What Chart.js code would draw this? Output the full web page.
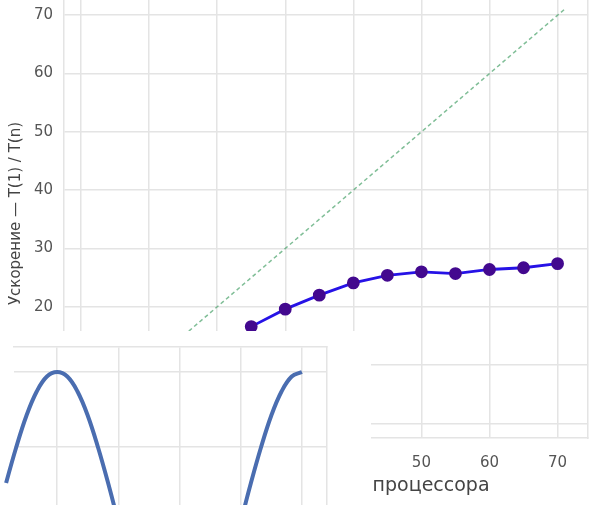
<!DOCTYPE html>
<html>
<head>
<meta charset="utf-8">
<script src="https://cdn.jsdelivr.net/npm/chart.js@4.4.1/dist/chart.umd.min.js"></script>
<style>
  html, body { margin: 0; padding: 0; background: #fff; overflow: hidden; }
  #page { position: relative; width: 590px; height: 505px; overflow: hidden; }
  #mainChart { position: absolute; left: 0; top: -40px; }
  #inset { position: absolute; left: 0; top: 331px; width: 371px; height: 174px; background: #fff; overflow: hidden; }
  #sineChart { position: absolute; left: 0; top: 0; }
</style>
</head>
<body>
<div id="page">
  <canvas id="mainChart" width="596" height="545"></canvas>
  <div id="inset">
    <canvas id="sineChart" width="371" height="370"></canvas>
  </div>
</div>
<script>
// speedup measured vs number of processors
const processors = [25, 30, 35, 40, 45, 50, 55, 60, 65, 70];
const speedup = [16.6, 19.6, 22.0, 24.1, 25.4, 26.0, 25.7, 26.4, 26.7, 27.4];
// ideal speedup line
const idealX = [1, 71];
const idealY = [1, 71];
const axisTicks = [0, 10, 20, 30, 40, 50, 60, 70];

// inset curve (degrees -> value)
const angleDeg = [0, 15, 30, 45, 60, 75, 90, 105, 120, 135, 150, 165, 180, 195, 210, 225, 240, 255, 270, 285, 300, 315, 330, 345, 360, 375, 390, 405, 420, 435, 450];
const waveValues = [0, 0.26, 0.5, 0.71, 0.87, 0.97, 1, 0.97, 0.87, 0.71, 0.5, 0.26, 0, -0.26, -0.5, -0.71, -0.87, -0.97, -1, -0.97, -0.87, -0.71, -0.5, -0.26, 0, 0.26, 0.5, 0.71, 0.87, 0.97, 1];

const gridColor = "#e4e4e4";
const tickColor = "#555";

new Chart(document.getElementById("mainChart"), {
  type: "line",
  data: {
    datasets: [
      {
        label: "ideal",
        data: idealX.map((x, i) => ({ x: x, y: idealY[i] })),
        borderColor: "rgba(60,155,95,0.65)",
        borderWidth: 1.5,
        borderDash: [4, 3],
        pointRadius: 0,
        fill: false,
      },
      {
        label: "speedup",
        data: processors.map((p, i) => ({ x: p, y: speedup[i] })),
        borderColor: "#2612e6",
        borderWidth: 2.8,
        pointRadius: 5,
        pointBackgroundColor: "#43098f",
        pointBorderColor: "#43098f",
        fill: false,
      },
    ],
  },
  options: {
    responsive: false,
    animation: false,
    layout: { padding: { top: 29, right: 0, left: 0, bottom: 0 } },
    plugins: { legend: { display: false }, tooltip: { enabled: false } },
    scales: {
      x: {
        type: "linear",
        min: -2.5,
        max: 74.5,
        afterBuildTicks: (scale) => { scale.ticks = axisTicks.map((v) => ({ value: v })); },
        afterFit: (scale) => { scale.height = 67; },
        grid: { color: gridColor, lineWidth: 1.5, drawTicks: false },
        border: { color: gridColor, width: 1.5 },
        ticks: { color: tickColor, font: { family: "DejaVu Sans", size: 15 }, padding: 16 },
        title: {
          display: true,
          text: "Количество потоков процессора",
          color: "#444",
          font: { family: "DejaVu Sans", size: 19 },
          padding: { top: 0, bottom: 8 },
        },
      },
      y: {
        type: "linear",
        min: -2.5,
        max: 74.5,
        afterBuildTicks: (scale) => { scale.ticks = axisTicks.map((v) => ({ value: v })); },
        afterFit: (scale) => { scale.width = 64; },
        grid: { color: gridColor, lineWidth: 1.5, drawTicks: false },
        border: { color: gridColor, width: 1.5 },
        ticks: { color: tickColor, font: { family: "DejaVu Sans", size: 15 }, padding: 11 },
        title: {
          display: true,
          text: "Ускорение — T(1) / T(n)",
          color: "#444",
          font: { family: "DejaVu Sans", size: 15 },
          padding: { top: 7, bottom: 0 },
        },
      },
      yRight: {
        type: "linear",
        position: "right",
        min: -2.5,
        max: 74.5,
        afterFit: (scale) => { scale.width = 0; },
        grid: { display: false },
        border: { color: gridColor, width: 1.5 },
        ticks: { display: false },
      },
    },
  },
});

new Chart(document.getElementById("sineChart"), {
  type: "line",
  data: {
    datasets: [
      {
        data: angleDeg.map((a, i) => ({ x: a, y: waveValues[i] })),
        borderColor: "#4a6db0",
        borderWidth: 4,
        pointRadius: 0,
        tension: 0.4,
        clip: false,
        fill: false,
      },
    ],
  },
  options: {
    responsive: false,
    animation: false,
    layout: { padding: { top: 16, left: 14, right: 44, bottom: 4 } },
    plugins: { legend: { display: false }, tooltip: { enabled: false } },
    scales: {
      x: {
        type: "linear",
        position: "top",
        min: 26.6,
        max: 486.9,
        afterFit: (scale) => { scale.height = 0; },
        grid: { color: gridColor, lineWidth: 1.5, drawTicks: false },
        border: { color: gridColor, width: 1.5 },
        ticks: { display: false, stepSize: 90, includeBounds: false },
      },
      y: {
        type: "linear",
        position: "right",
        min: -1.1667,
        max: 1.1667,
        afterFit: (scale) => { scale.width = 0; },
        grid: { color: gridColor, lineWidth: 1.5, drawTicks: false },
        border: { color: gridColor, width: 1.5 },
        ticks: { display: false, stepSize: 0.5, includeBounds: false },
      },
    },
  },
});
</script>
</body>
</html>
